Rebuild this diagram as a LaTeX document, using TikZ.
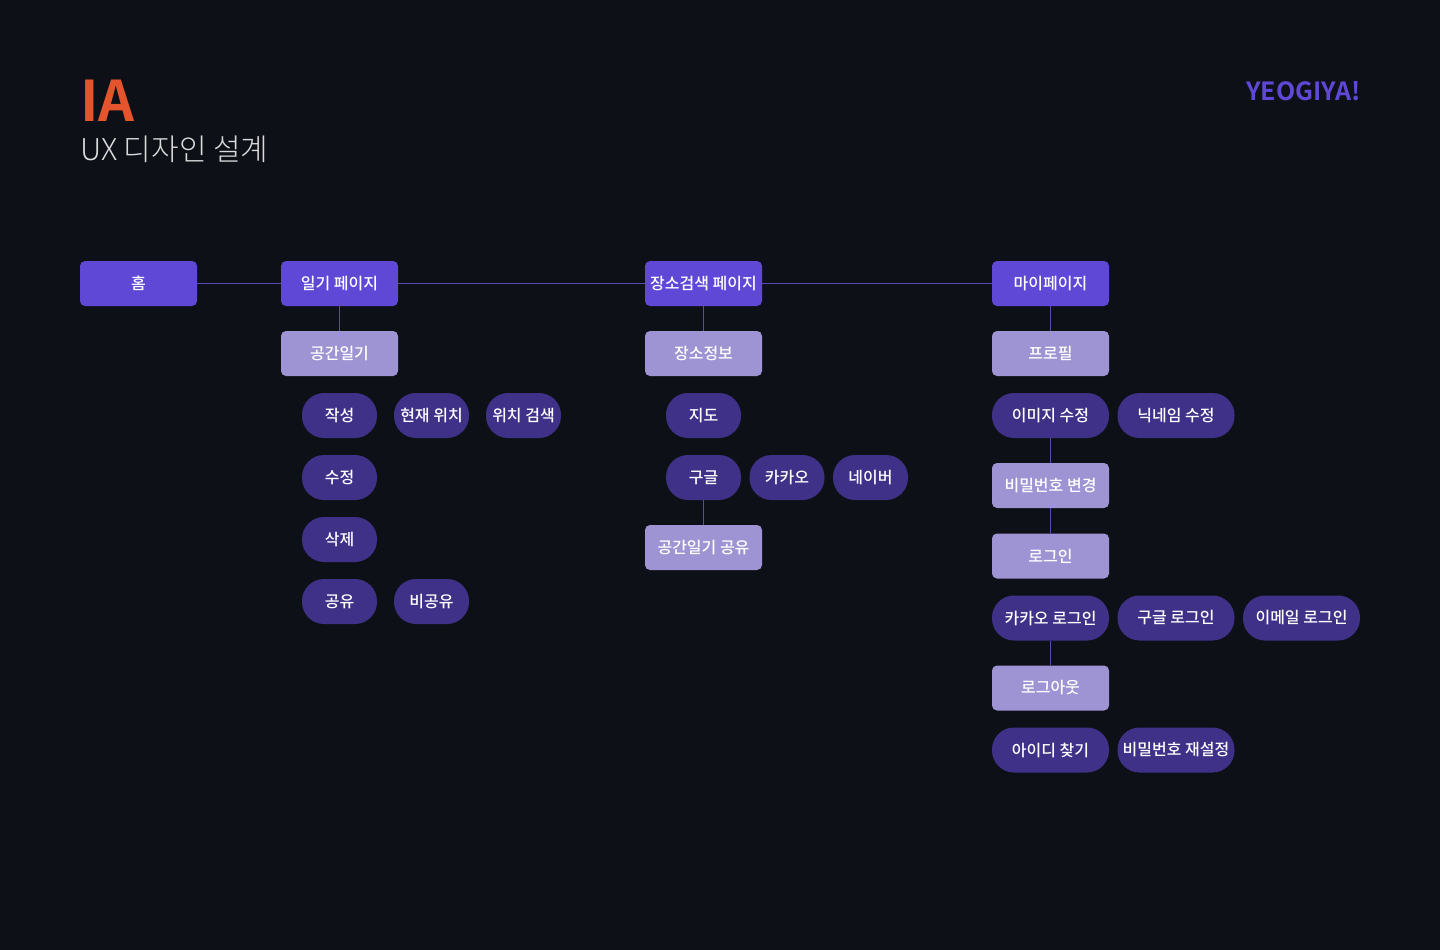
\documentclass[tikz,border=0pt]{standalone}
\usepackage{fontspec}
\setmainfont{Noto Sans CJK KR}
\newfontfamily\medfont{Noto Sans CJK KR Medium}
\newfontfamily\thinfont{Noto Sans CJK KR Light}
\newfontfamily\boldfont{Noto Sans CJK KR Bold}
\usepackage{tikz}
\definecolor{bgdark}{HTML}{0D1117}
\definecolor{mainvio}{HTML}{5F48D6}
\definecolor{subvio}{HTML}{9E93D3}
\definecolor{pillvio}{HTML}{3F3188}
\definecolor{linkvio}{HTML}{5A4AB0}
\definecolor{titleor}{HTML}{E5552D}
\tikzset{
  box/.style={rounded corners=5pt,align=center,inner sep=0pt,text=white,
              font=\medfont\fontsize{16}{18}\selectfont,
              minimum width=117pt,minimum height=45pt},
  pbox/.style={box,fill=mainvio},
  sbox/.style={box,fill=subvio},
  dbox/.style={box,fill=pillvio,rounded corners=22pt,minimum width=75pt},
  wbox/.style={dbox,minimum width=117pt},
  link/.style={draw=linkvio,line width=1pt},
}
\begin{document}
\begin{tikzpicture}[x=1pt,y=-1pt]
\useasboundingbox[fill=bgdark] (0,0) rectangle (1440,950);

%% ---------- heading ----------
\node[anchor=base west,inner sep=0pt,text=titleor,font=\boldfont\fontsize{56}{60}\selectfont]
  (ttl) at (80,121) {IA};
\node[anchor=base west,inner sep=0pt,text=white!85!bgdark,font=\thinfont\fontsize{30}{34}\selectfont]
  (sub) at (80,160) {UX 디자인 설계};
\node[anchor=base east,inner sep=0pt,text=mainvio,font=\boldfont\fontsize{25}{28}\selectfont]
  (logo) at (1361,100) {YEOGIYA!};

%% ---------- top row ----------
\node[pbox] (home) at (138.5,283.5) {홈};
\node[pbox] (diary) at (339.5,283.5) {일기 페이지};
\node[pbox] (search) at (703.5,283.5) {장소검색 페이지};
\node[pbox] (mypage) at (1050.5,283.5) {마이페이지};

%% ---------- diary column ----------
\node[sbox] (space) at (339.5,353.5) {공간일기};
\node[dbox] (write) at (339.5,415.5) {작성};
\node[dbox] (curpos) at (431.5,415.5) {현재 위치};
\node[dbox] (possearch) at (523.5,415.5) {위치 검색};
\node[dbox] (edit) at (339.5,477.5) {수정};
\node[dbox] (del) at (339.5,539.5) {삭제};
\node[dbox] (share) at (339.5,601.5) {공유};
\node[dbox] (noshare) at (431.5,601.5) {비공유};

%% ---------- search column ----------
\node[sbox] (place) at (703.5,353.5) {장소정보};
\node[dbox] (map) at (703.5,415.5) {지도};
\node[dbox] (google) at (703.5,477.5) {구글};
\node[dbox] (kakao) at (787,477.5) {카카오};
\node[dbox] (naver) at (870.5,477.5) {네이버};
\node[sbox] (spshare) at (703.5,547.5) {공간일기 공유};

%% ---------- my page column ----------
\node[sbox] (profile) at (1050.5,353.5) {프로필};
\node[wbox] (imgedit) at (1050.5,415.5) {이미지 수정};
\node[wbox] (nickedit) at (1176,415.5) {닉네임 수정};
\node[sbox] (pwchange) at (1050.5,485.5) {비밀번호 변경};
\node[sbox] (login) at (1050.5,556) {로그인};
\node[wbox] (kakaologin) at (1050.5,618) {카카오 로그인};
\node[wbox] (googlelogin) at (1176,618) {구글 로그인};
\node[wbox] (maillogin) at (1301.5,618) {이메일 로그인};
\node[sbox] (logout) at (1050.5,688) {로그아웃};
\node[wbox] (findid) at (1050.5,750) {아이디 찾기};
\node[wbox] (pwreset) at (1176,750) {비밀번호 재설정};

%% connectors
\draw[link] (home) -- (diary);
\draw[link] (diary) -- (search);
\draw[link] (search) -- (mypage);
\draw[link] (diary) -- (space);
\draw[link] (search) -- (place);
\draw[link] (mypage) -- (profile);
\draw[link] (google) -- (spshare);
\draw[link] (imgedit) -- (pwchange);
\draw[link] (pwchange) -- (login);
\draw[link] (kakaologin) -- (logout);
\end{tikzpicture}
\end{document}
